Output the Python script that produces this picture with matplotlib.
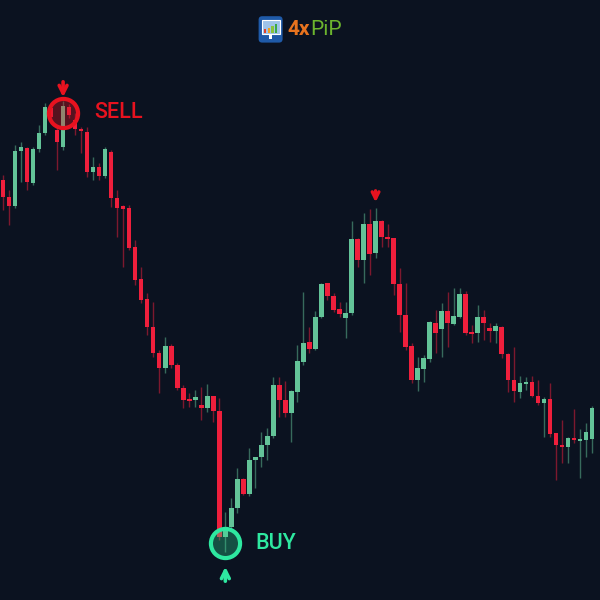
import matplotlib
matplotlib.use("Agg")
import matplotlib.pyplot as plt
from matplotlib.patches import FancyBboxPatch, Rectangle

# OHLC candles
opens = [1.0920, 1.0903, 1.0894, 1.0949, 1.0952, 1.0917, 1.0951, 1.0967, 1.0992, 1.0970,
         1.0953, 1.0993, 1.0980, 1.0971, 1.0968, 1.0928, 1.0933, 1.0924, 1.0948, 1.0902,
         1.0894, 1.0892, 1.0853, 1.0821, 1.0801, 1.0773, 1.0747, 1.0732, 1.0754, 1.0735,
         1.0712, 1.0700, 1.0700, 1.0695, 1.0692, 1.0704, 1.0689, 1.0563, 1.0573, 1.0592,
         1.0621, 1.0606, 1.0640, 1.0643, 1.0655, 1.0664, 1.0715, 1.0700, 1.0687, 1.0708,
         1.0738, 1.0758, 1.0751, 1.0783, 1.0817, 1.0804, 1.0791, 1.0782, 1.0787, 1.0861,
         1.0840, 1.0876, 1.0847, 1.0879, 1.0863, 1.0862, 1.0816, 1.0785, 1.0754, 1.0720,
         1.0731, 1.0741, 1.0777, 1.0771, 1.0789, 1.0776, 1.0783, 1.0806, 1.0768, 1.0767,
         1.0783, 1.0772, 1.0769, 1.0773, 1.0746, 1.0720, 1.0708, 1.0716, 1.0718, 1.0704,
         1.0697, 1.0701, 1.0667, 1.0655, 1.0653, 1.0662, 1.0659, 1.0660, 1.0661]
highs = [1.0925, 1.0910, 1.0955, 1.0958, 1.0953, 1.0953, 1.0975, 1.0997, 1.0996, 1.0975,
         1.0999, 1.0996, 1.0987, 1.0973, 1.0973, 1.0943, 1.0937, 1.0953, 1.0950, 1.0910,
         1.0895, 1.0895, 1.0860, 1.0833, 1.0807, 1.0798, 1.0750, 1.0763, 1.0756, 1.0737,
         1.0715, 1.0707, 1.0710, 1.0713, 1.0716, 1.0704, 1.0702, 1.0588, 1.0602, 1.0632,
         1.0622, 1.0652, 1.0643, 1.0668, 1.0672, 1.0723, 1.0723, 1.0719, 1.0710, 1.0755,
         1.0808, 1.0773, 1.0789, 1.0817, 1.0817, 1.0807, 1.0798, 1.0798, 1.0879, 1.0862,
         1.0887, 1.0891, 1.0892, 1.0880, 1.0876, 1.0862, 1.0832, 1.0817, 1.0757, 1.0743,
         1.0745, 1.0779, 1.0790, 1.0797, 1.0808, 1.0812, 1.0812, 1.0809, 1.0775, 1.0795,
         1.0790, 1.0777, 1.0777, 1.0774, 1.0747, 1.0753, 1.0724, 1.0723, 1.0724, 1.0720,
         1.0703, 1.0717, 1.0667, 1.0680, 1.0663, 1.0691, 1.0671, 1.0677, 1.0694]
lows = [1.0890, 1.0875, 1.0892, 1.0918, 1.0910, 1.0915, 1.0948, 1.0965, 1.0980, 1.0930,
        1.0950, 1.0982, 1.0965, 1.0947, 1.0923, 1.0920, 1.0920, 1.0922, 1.0893, 1.0863,
        1.0833, 1.0850, 1.0815, 1.0797, 1.0765, 1.0743, 1.0707, 1.0727, 1.0732, 1.0710,
        1.0692, 1.0693, 1.0693, 1.0680, 1.0688, 1.0678, 1.0560, 1.0548, 1.0570, 1.0587,
        1.0605, 1.0604, 1.0612, 1.0633, 1.0640, 1.0662, 1.0683, 1.0683, 1.0658, 1.0698,
        1.0735, 1.0747, 1.0750, 1.0782, 1.0800, 1.0788, 1.0783, 1.0762, 1.0785, 1.0833,
        1.0817, 1.0825, 1.0842, 1.0853, 1.0853, 1.0805, 1.0768, 1.0750, 1.0717, 1.0709,
        1.0718, 1.0738, 1.0747, 1.0743, 1.0753, 1.0775, 1.0782, 1.0765, 1.0757, 1.0758,
        1.0760, 1.0758, 1.0757, 1.0742, 1.0708, 1.0698, 1.0702, 1.0710, 1.0703, 1.0695,
        1.0663, 1.0663, 1.0620, 1.0637, 1.0637, 1.0657, 1.0622, 1.0643, 1.0647]
closes = [1.0903, 1.0894, 1.0949, 1.0953, 1.0918, 1.0951, 1.0967, 1.0993, 1.0983, 1.0958,
          1.0994, 1.0985, 1.0971, 1.0969, 1.0928, 1.0933, 1.0924, 1.0951, 1.0902, 1.0892,
          1.0891, 1.0852, 1.0820, 1.0800, 1.0773, 1.0747, 1.0732, 1.0754, 1.0735, 1.0712,
          1.0700, 1.0699, 1.0703, 1.0692, 1.0704, 1.0689, 1.0563, 1.0573, 1.0592, 1.0621,
          1.0606, 1.0640, 1.0643, 1.0655, 1.0664, 1.0715, 1.0700, 1.0687, 1.0709, 1.0739,
          1.0757, 1.0751, 1.0783, 1.0816, 1.0804, 1.0790, 1.0786, 1.0787, 1.0861, 1.0840,
          1.0876, 1.0846, 1.0879, 1.0863, 1.0861, 1.0816, 1.0785, 1.0753, 1.0720, 1.0732,
          1.0742, 1.0778, 1.0767, 1.0789, 1.0777, 1.0784, 1.0806, 1.0767, 1.0766, 1.0783,
          1.0777, 1.0769, 1.0774, 1.0746, 1.0720, 1.0709, 1.0717, 1.0718, 1.0704, 1.0697,
          1.0701, 1.0666, 1.0655, 1.0653, 1.0662, 1.0660, 1.0661, 1.0668, 1.0692]

# signals: (candle index, price)
sell_idx, sell_price = 10, 1.0987
buy_idx, buy_price = 37, 1.0557
top_idx, top_price = 62, 1.0895

BG = "#0b1220"
UP = "#63c398"
DOWN = "#ef1f3c"
BUY_C = "#2ee8a0"
SELL_C = "#e8121f"

fig = plt.figure(figsize=(6, 6), dpi=100, facecolor=BG)
ax = fig.add_axes([0, 0, 1, 1], facecolor=BG)

for i, (o, h, l, c) in enumerate(zip(opens, highs, lows, closes)):
    col = UP if c >= o else DOWN
    ax.vlines(i, l, h, color=col, lw=1.0, alpha=0.5, zorder=1)
    body = max(abs(c - o), 0.00015)
    ax.bar(i, body, bottom=min(o, c), width=0.75, color=col, lw=0, zorder=2)

# sell signal
ax.plot([sell_idx], [sell_price], marker="o", ms=21, mfc=(0.9, 0.07, 0.12, 0.35),
        mec=SELL_C, mew=3, zorder=3)
ax.annotate("", xy=(sell_idx, sell_price + 0.0013), xytext=(sell_idx, sell_price + 0.0034),
            arrowprops=dict(arrowstyle="->", color=SELL_C, lw=2.6, mutation_scale=14), zorder=3)
ax.text(sell_idx + 5.2, sell_price, "SELL", color=SELL_C, fontsize=15.5,
        family="Roboto", weight="medium", va="center", ha="left")

# second top arrow
ax.annotate("", xy=(top_idx, top_price), xytext=(top_idx, top_price + 0.0017),
            arrowprops=dict(arrowstyle="->", color=SELL_C, lw=2.4, mutation_scale=12), zorder=3)

# buy signal
ax.plot([buy_idx], [buy_price], marker="o", ms=21, mfc=(0.18, 0.9, 0.6, 0.3),
        mec=BUY_C, mew=3, zorder=3)
ax.annotate("", xy=(buy_idx, buy_price - 0.0021), xytext=(buy_idx, buy_price - 0.0041),
            arrowprops=dict(arrowstyle="->", color=BUY_C, lw=2.6, mutation_scale=14), zorder=3)
ax.text(buy_idx + 5.0, buy_price - 0.0001, "BUY", color=BUY_C, fontsize=15.5,
        family="Roboto", weight="medium", va="center", ha="left")

ax.set_xlim(-0.5, len(opens) + 0.35)
ax.set_ylim(1.05, 1.11)
ax.axis("off")

# logo
icon = FancyBboxPatch((0.431, 0.929), 0.040, 0.044, boxstyle="round,pad=0,rounding_size=0.006",
                      transform=fig.transFigure, fc="#1f5aa8", ec="none")
fig.patches.append(icon)
fig.patches.append(Rectangle((0.436, 0.943), 0.030, 0.023, transform=fig.transFigure,
                             fc="#9fc4ea", ec="white", lw=0.8))
for k, bc in enumerate(["#e0402a", "#f0a020", "#8cc43c", "#3aa84a"]):
    fig.patches.append(Rectangle((0.440 + k * 0.006, 0.945), 0.004, 0.006 + k * 0.003,
                                 transform=fig.transFigure, fc=bc, ec="none"))
fig.patches.append(Rectangle((0.448, 0.935), 0.006, 0.007, transform=fig.transFigure,
                             fc="white", ec="none"))
t1 = fig.text(0.479, 0.951, "4x", color="#e8731e", fontsize=15, family="Roboto",
              weight="bold", va="center", ha="left")
ax.annotate("PiP", xy=(1, 0.5), xycoords=t1, xytext=(0, 0), textcoords="offset points",
            color="#6cb52e", fontsize=15, family="Roboto", va="center", ha="left")

fig.savefig("out.png", dpi=100, facecolor=BG)
